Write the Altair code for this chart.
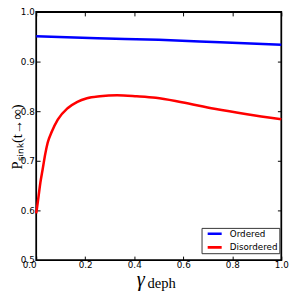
import altair as alt
import pandas as pd

# Data
gamma_ordered = [0.0, 0.25, 0.5, 0.75, 1.0]
p_ordered = [0.951, 0.947, 0.944, 0.939, 0.934]

gamma_disordered = [0.0, 0.003, 0.01, 0.017, 0.026, 0.037, 0.047, 0.062, 0.088, 0.128,
                    0.168, 0.207, 0.26, 0.33, 0.41, 0.488, 0.594, 0.727, 0.86, 1.0]
p_disordered = [0.594, 0.604, 0.630, 0.656, 0.682, 0.714, 0.737, 0.757, 0.783, 0.806,
                0.819, 0.826, 0.830, 0.832, 0.830, 0.827, 0.818, 0.805, 0.794, 0.784]

series_names = ["Ordered", "Disordered"]
series_colors = ["#0000ff", "#ff0000"]
x_ticks = [0.0, 0.2, 0.4, 0.6, 0.8, 1.0]
y_ticks = [0.5, 0.6, 0.7, 0.8, 0.9, 1.0]

df = pd.concat([
    pd.DataFrame({"gamma": gamma_ordered, "p": p_ordered, "series": "Ordered"}),
    pd.DataFrame({"gamma": gamma_disordered, "p": p_disordered, "series": "Disordered"}),
])

W, H = 252, 255
xs = alt.Scale(domain=[0, 1], nice=False, zero=False)
ys = alt.Scale(domain=[0.5, 1.0], nice=False, zero=False)

lab = dict(labelFont="DejaVu Sans", labelFontSize=9, labelColor="black",
           grid=False, domain=False)

lines = alt.Chart(df).mark_line(strokeWidth=2.6, interpolate="monotone").encode(
    x=alt.X("gamma:Q", scale=xs, axis=alt.Axis(
        orient="bottom", values=x_ticks, format=".1f", ticks=False, labelPadding=1,
        labelFlush=False,
        labelAlign={"condition": {"test": "datum.value == 0", "value": "right"}, "value": "center"},
        title="γ", titleFont="Liberation Serif", titleFontStyle="italic",
        titleFontSize=21, titleFontWeight="normal", titleColor="black",
        titleX=107, titleY=26, titleBaseline="alphabetic", titleAlign="center", **lab)),
    y=alt.Y("p:Q", scale=ys, axis=alt.Axis(
        orient="left", values=y_ticks, format=".1f", ticks=False, labelPadding=2,
        labelFlush=False, labelBaseline="middle",
        title="Pₛᵢₙₖ(t→∞)", titleFont="Liberation Serif", titleFontSize=15,
        titleFontWeight="normal", titleColor="black", titleX=-12, titleY=128,
        titleAlign="center", **lab)),
    color=alt.Color("series:N", sort=series_names,
                    scale=alt.Scale(domain=series_names, range=series_colors),
                    legend=alt.Legend(
                        title=None, orient="none", legendX=170, legendY=222,
                        symbolType="stroke", symbolSize=207, symbolStrokeWidth=2.6,
                        symbolOffset=4, clipHeight=10,
                        labelFont="DejaVu Sans", labelFontSize=9, labelColor="black",
                        labelOffset=7, rowPadding=4, padding=1,
                        strokeColor="#333333", fillColor="white", cornerRadius=0)),
    detail="series:N",
)

tick_common = dict(ticks=True, tickSize=4, tickColor="black", tickWidth=1,
                   labels=False, domain=False, grid=False, title=None)

ticks_a = alt.Chart(df).mark_point(opacity=0).encode(
    x=alt.X("gamma:Q", scale=xs, axis=alt.Axis(orient="top", offset=-H, values=x_ticks, **tick_common)),
    y=alt.Y("p:Q", scale=ys, axis=alt.Axis(orient="right", offset=-W, values=y_ticks, **tick_common)),
)
ticks_b = alt.Chart(df).mark_point(opacity=0).encode(
    x=alt.X("gamma:Q", scale=xs, axis=alt.Axis(orient="bottom", offset=-H, values=x_ticks, **tick_common)),
    y=alt.Y("p:Q", scale=ys, axis=alt.Axis(orient="left", offset=-W, values=y_ticks, **tick_common)),
)
sub = alt.Chart(df).mark_point(opacity=0).encode(
    x=alt.X("gamma:Q", scale=xs, axis=alt.Axis(
        orient="bottom", ticks=False, labels=False, domain=False, grid=False,
        title="deph", titleFont="Liberation Serif", titleFontSize=15,
        titleFontWeight="normal", titleColor="black", titleX=114, titleY=28,
        titleBaseline="alphabetic", titleAlign="left")),
    y=alt.Y("p:Q", scale=ys, axis=None),
)

chart = alt.layer(lines, ticks_a, ticks_b, sub).resolve_axis(
    x="independent", y="independent"
).properties(
    width=W, height=H,
    autosize=alt.AutoSizeParams(type="none"),
    padding={"left": 29, "top": 0, "right": 11, "bottom": 37},
).configure_view(stroke="black", strokeWidth=1.8)

chart.save("out.html", embed_options={"renderer": "svg", "actions": False})
